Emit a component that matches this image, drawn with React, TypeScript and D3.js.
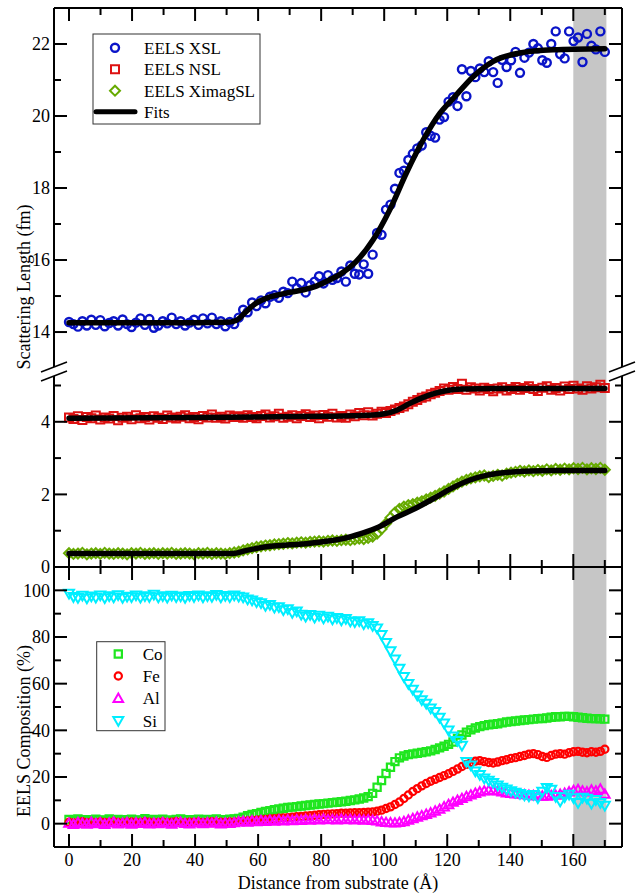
import React from "react";
import * as d3 from "d3";

// ---------- data ----------
const DIST_MAX = 170; // Å, last sample
const N_SAMPLES = 121; // uniform sampling grid 0..170 Å

const XSL = [
  14.28, 14.22, 14.15, 14.30, 14.18, 14.34, 14.20, 14.33, 14.16, 14.25,
  14.30, 14.18, 14.35, 14.22, 14.14, 14.26, 14.38, 14.20, 14.36, 14.12,
  14.18, 14.30, 14.24, 14.40, 14.22, 14.30, 14.18, 14.26, 14.34, 14.20,
  14.38, 14.24, 14.40, 14.22, 14.30, 14.16, 14.28, 14.22,
  14.40, 14.62, 14.55, 14.82, 14.72, 14.88, 14.80, 14.98, 15.02, 14.95,
  15.12, 15.08, 15.40, 15.22, 15.36, 15.10, 15.30, 15.40, 15.55, 15.35,
  15.58, 15.45, 15.50, 15.68, 15.40, 15.85, 15.62, 15.60, 15.88, 15.62,
  16.15, 16.75, 16.70, 17.40, 17.54, 17.98, 18.42, 18.48, 18.78, 18.95,
  19.10, 19.18, 19.55, 19.45, 19.40, 19.90, 19.97, 20.40, 20.52, 20.28,
  21.30, 20.55, 21.25, 21.08, 21.32, 21.22, 21.52, 21.22, 20.92, 21.56,
  21.36, 21.55, 21.78, 21.20, 21.62, 21.76, 22.00, 21.88, 21.55, 21.48,
  22.00, 22.35, 21.72, 21.60, 22.35, 22.08, 22.18, 21.50, 22.28, 21.95,
  21.85, 22.35, 21.78,
];

const NSL = [
  4.12, 4.08, 4.15, 4.05, 4.13, 4.10, 4.17, 4.06, 4.12, 4.09,
  4.16, 4.04, 4.11, 4.14, 4.07, 4.18, 4.10, 4.13, 4.06, 4.15,
  4.11, 4.08, 4.17, 4.12, 4.09, 4.14, 4.18, 4.10, 4.13, 4.07,
  4.16, 4.12, 4.20, 4.11, 4.14, 4.09, 4.17, 4.13,
  4.15, 4.11, 4.18, 4.13, 4.10, 4.16, 4.20, 4.12, 4.15, 4.22,
  4.11, 4.14, 4.18, 4.10, 4.16, 4.21, 4.13, 4.17, 4.10, 4.19,
  4.14, 4.22, 4.12, 4.16, 4.11, 4.20, 4.15, 4.24, 4.18, 4.26,
  4.17, 4.22,
  4.28, 4.24, 4.30, 4.34, 4.38, 4.42, 4.48, 4.55, 4.60, 4.66,
  4.70, 4.76, 4.80, 4.85, 4.92, 4.88, 4.96, 4.90, 5.05, 4.88,
  4.95, 4.92, 4.86, 4.94, 4.90, 4.84, 4.92, 4.95, 4.86, 4.90,
  4.96, 4.88, 4.93, 4.98, 4.90, 4.85, 4.94, 4.98, 4.88, 4.93,
  4.86, 4.97, 4.90, 4.99, 4.92, 4.88, 4.98, 4.92, 4.95, 5.02,
  4.93,
];

const XIMAG = [
  0.38, 0.36, 0.37, 0.39, 0.35, 0.37, 0.38, 0.36, 0.39, 0.37,
  0.36, 0.38, 0.37, 0.35, 0.38, 0.37, 0.39, 0.36, 0.37, 0.38,
  0.36, 0.38, 0.37, 0.39, 0.36, 0.37, 0.38, 0.37, 0.35, 0.38,
  0.37, 0.39, 0.36, 0.38, 0.37, 0.36, 0.38, 0.40,
  0.42, 0.46, 0.49, 0.52, 0.55, 0.57, 0.59, 0.60, 0.62, 0.63,
  0.64, 0.66, 0.65, 0.67, 0.68, 0.67, 0.69, 0.70, 0.71, 0.70,
  0.72, 0.73, 0.72, 0.74, 0.75, 0.74, 0.76, 0.78, 0.77, 0.80,
  0.84, 0.92, 1.05, 1.20, 1.36, 1.50, 1.60, 1.66, 1.70, 1.73,
  1.77, 1.81, 1.86, 1.91, 1.96, 2.02, 2.08, 2.15, 2.22, 2.29,
  2.35, 2.40, 2.44, 2.47, 2.50, 2.52, 2.48, 2.51, 2.54, 2.52,
  2.57, 2.60, 2.62, 2.65, 2.63, 2.66, 2.64, 2.67, 2.65, 2.69,
  2.66, 2.70, 2.68, 2.71, 2.69, 2.72, 2.70, 2.73, 2.69, 2.72,
  2.70, 2.73, 2.68,
];

const FIT_XSL: [number, number][] = [
  [0, 14.26], [20, 14.26], [40, 14.26], [50, 14.27], [53, 14.32], [56, 14.55],
  [59, 14.78], [63, 14.95], [70, 15.1], [78, 15.26], [82, 15.42], [86, 15.6],
  [91, 15.95], [96.5, 16.56], [101.8, 17.4], [107, 18.41], [112.4, 19.34],
  [117.7, 20.08], [122, 20.5], [128.3, 21.1], [134.6, 21.52], [143, 21.75],
  [153.6, 21.84], [170, 21.87],
];
const FIT_NSL: [number, number][] = [
  [0, 4.1], [40, 4.12], [80, 4.15], [95, 4.18], [100, 4.22], [104, 4.32],
  [108, 4.5], [112, 4.66], [116, 4.78], [120, 4.86], [125, 4.9], [135, 4.92],
  [170, 4.92],
];
const FIT_XIMAG: [number, number][] = [
  [0, 0.37], [52, 0.37], [56, 0.45], [60, 0.52], [64, 0.57], [70, 0.61],
  [75.4, 0.64], [81, 0.7], [86.9, 0.78], [92.6, 0.92], [98.3, 1.1],
  [104.1, 1.38], [109.8, 1.61], [115.5, 1.88], [121.2, 2.16], [127, 2.39],
  [132.7, 2.53], [138.4, 2.6], [144.1, 2.64], [155, 2.66], [170, 2.66],
];

const CO = [
  1.8, 1.4, 2.0, 1.5, 1.7, 1.3, 1.9, 1.6, 1.4, 2.0,
  1.5, 1.8, 1.3, 1.7, 1.9, 1.5, 1.6, 2.1, 1.4, 1.8,
  1.5, 1.9, 1.6, 1.3, 1.8, 2.0, 1.5, 1.7, 1.4, 1.9,
  1.6, 1.8, 1.5, 2.0, 1.7, 1.6, 1.9, 2.0,
  2.2, 2.8, 3.4, 3.9, 4.3, 4.8, 5.2, 5.6, 6.0, 6.3,
  6.6, 6.9, 7.1, 7.3, 7.6, 7.8, 8.0, 8.2, 8.4, 8.6,
  8.8, 9.0, 9.2, 9.4, 9.6, 9.9, 10.2, 10.6, 11.0, 11.6,
  13.0, 15.6, 18.5, 21.5, 24.2, 26.6, 28.2, 29.0, 29.6, 29.9,
  30.2, 30.5, 30.8, 31.2, 31.8, 32.5, 33.2, 34.0, 35.0, 36.5,
  38.0, 39.2, 40.2, 41.0, 41.6, 42.0, 42.4, 42.6, 42.8, 43.2,
  43.6, 43.8, 44.0, 44.2, 44.4, 44.6, 44.8, 45.0, 45.1, 45.3,
  45.6, 45.8, 45.8, 46.0, 46.0, 45.8, 45.6, 45.4, 45.2, 45.0,
  45.0, 44.9, 44.8,
];

const FE = [
  0.6, 0.3, 0.5, 0.8, 0.4, 0.6, 0.3, 0.7, 0.5, 0.4,
  0.8, 0.5, 0.3, 0.6, 0.7, 0.4, 0.5, 0.8, 0.6, 0.3,
  0.5, 0.7, 0.4, 0.6, 0.8, 0.5, 0.3, 0.6, 0.5, 0.7,
  0.4, 0.6, 0.8, 0.5, 0.6, 0.4, 0.7, 0.6,
  0.8, 1.0, 1.2, 1.3, 1.5, 1.6, 1.8, 2.0, 2.1, 2.3,
  2.5, 2.6, 2.8, 3.0, 3.1, 3.3, 3.4, 3.6, 3.8, 4.0,
  4.1, 4.2, 4.3, 4.5, 4.5, 4.6, 4.7, 4.7, 4.8, 4.9,
  5.0, 5.3, 5.8, 6.5, 7.2, 8.2, 9.3, 10.8, 12.3, 13.8,
  15.0, 16.2, 17.2, 18.2, 19.0, 19.8, 20.6, 21.4, 22.4, 23.4,
  24.5, 25.4, 26.2, 26.8, 27.0, 26.6, 26.2, 26.0, 26.4, 27.0,
  27.4, 28.0, 28.3, 28.8, 29.2, 29.8, 30.0, 29.6, 28.8, 28.4,
  29.2, 29.8, 30.0, 29.8, 30.4, 30.8, 31.0, 30.6, 30.4, 30.8,
  30.6, 31.0, 31.9,
];

const AL = [
  0.2, -0.3, 0.5, 0.1, -0.2, 0.6, 0.0, 0.4, -0.3, 0.3,
  0.7, -0.1, 0.2, 0.5, -0.2, 0.4, 0.1, 0.6, -0.1, 0.3,
  0.0, 0.5, 0.2, -0.2, 0.4, 0.6, 0.1, -0.1, 0.3, 0.5,
  0.0, 0.4, 0.2, 0.6, -0.1, 0.3, 0.1, 0.4,
  0.8, 1.0, 0.7, 1.2, 0.9, 1.3, 1.0, 1.4, 1.1, 1.5,
  1.2, 1.6, 1.3, 1.7, 1.4, 1.8, 1.5, 1.9, 1.6, 2.0,
  1.7, 1.8, 1.6, 2.0, 1.7, 1.9, 1.6, 1.8, 1.5, 1.7,
  1.4, 1.2,
  0.8, 0.5, 0.4, 0.3, 0.5, 0.9, 1.5, 2.2, 2.8, 3.4,
  4.0, 4.6, 5.4, 6.2, 7.2, 8.2, 9.2, 10.0, 10.8, 11.6,
  12.3, 13.0, 13.6, 14.0, 14.3, 14.2, 14.0, 13.6, 13.2, 13.0,
  12.8, 12.6, 12.4, 12.2, 12.0, 11.9, 11.8, 11.8, 12.0, 12.2,
  12.6, 13.0, 13.6, 14.2, 14.6, 14.0, 13.6, 14.4, 14.0, 14.8,
  12.6,
];

const SI = [
  98.6, 97.2, 96.8, 97.8, 96.6, 97.5, 96.9, 97.9, 96.7, 97.6,
  97.0, 98.0, 96.8, 97.4, 97.1, 97.9, 96.9, 97.6, 97.2, 98.2,
  97.0, 97.6, 96.9, 97.8, 97.1, 97.5, 96.8, 97.7, 97.2, 97.9,
  97.0, 97.6, 97.3, 98.1, 97.0, 97.7, 97.1, 97.9,
  97.4, 97.0, 96.2, 95.8, 95.0, 94.6, 93.4, 93.8, 92.6, 92.9,
  91.6, 92.0, 90.4, 91.0, 89.6, 88.8, 89.5, 88.4, 89.2, 88.0,
  88.8, 87.6, 88.2, 87.2, 87.8, 86.8, 86.4, 86.9, 85.6, 86.0,
  84.8, 83.8, 81.0, 77.5, 74.0, 70.5, 66.5, 63.0, 60.0, 57.5,
  55.0, 53.0, 51.5, 49.5, 48.0, 45.5, 43.0, 40.0, 37.5, 35.5,
  33.5, 26.5, 25.0, 22.5, 21.0, 19.5, 18.5, 17.5, 16.5, 15.5,
  14.8, 14.0, 13.4, 12.8, 12.2, 11.8, 12.4, 11.0, 13.8, 15.4,
  14.6, 11.5, 9.6, 11.4, 12.5, 11.0, 9.0, 11.2, 10.8, 8.6,
  10.2, 9.0, 7.8,
];

const X_TICKS = [0, 20, 40, 60, 80, 100, 120, 140, 160];
const UPPER_TICKS = [14, 16, 18, 20, 22];
const LOWER_TICKS = [0, 2, 4];
const COMP_TICKS = [0, 20, 40, 60, 80, 100];
const SHADE_RANGE = [160, 170.5];
const TOP_LEGEND = ["EELS XSL", "EELS NSL", "EELS XimagSL", "Fits"];
const BOTTOM_LEGEND = ["Co", "Fe", "Al", "Si"];

// ---------- styling ----------
const C = {
  xsl: "#0a14c8",
  nsl: "#dd1111",
  ximag: "#66aa00",
  co: "#1fe61f",
  fe: "#ff0000",
  al: "#ff00ff",
  si: "#00eeff",
  shade: "#c6c6c6",
};
const FONT = "'Liberation Serif', 'Times New Roman', serif";

const L = 54, R = 622, T = 8, MID = 567, B = 847;

const dist = d3.range(N_SAMPLES).map((i) => (i * DIST_MAX) / (N_SAMPLES - 1));

const x = d3.scaleLinear().domain([-4.76, 175.45]).range([L, R]);
const yUp = d3.scaleLinear().domain([12.89, 23]).range([372, T]);
const yLow = d3.scaleLinear().domain([0, 5.3]).range([MID, 374.6]);
const yComp = d3.scaleLinear().domain([-10, 110]).range([B, MID]);

type Shape = "circle" | "square" | "diamond" | "up" | "down";

const STY: Record<string, { shape: Shape; s: number; sw: number; color: string }> = {
  xsl: { shape: "circle", s: 4, sw: 2.4, color: C.xsl },
  nsl: { shape: "square", s: 4, sw: 2, color: C.nsl },
  ximag: { shape: "diamond", s: 5, sw: 2, color: C.ximag },
  co: { shape: "square", s: 3.6, sw: 2.2, color: C.co },
  fe: { shape: "circle", s: 3.6, sw: 2.2, color: C.fe },
  al: { shape: "up", s: 4.8, sw: 2, color: C.al },
  si: { shape: "down", s: 5, sw: 2, color: C.si },
};

function Marker({ st, cx, cy }: { st: { shape: Shape; s: number; sw: number; color: string }; cx: number; cy: number }) {
  const { shape, s, sw, color } = st;
  if (shape === "circle")
    return <circle cx={cx} cy={cy} r={s} fill="none" stroke={color} strokeWidth={sw} />;
  let d = "";
  if (shape === "square") d = `M${cx - s},${cy - s}h${2 * s}v${2 * s}h${-2 * s}Z`;
  if (shape === "diamond") d = `M${cx},${cy - s}L${cx + s},${cy}L${cx},${cy + s}L${cx - s},${cy}Z`;
  if (shape === "up") d = `M${cx},${cy - s}L${cx + s},${cy + s * 0.75}L${cx - s},${cy + s * 0.75}Z`;
  if (shape === "down") d = `M${cx},${cy + s}L${cx + s},${cy - s * 0.75}L${cx - s},${cy - s * 0.75}Z`;
  return <path d={d} fill="none" stroke={color} strokeWidth={sw} strokeLinejoin="miter" />;
}

function Series({ vals, y, st }: { vals: number[]; y: d3.ScaleLinear<number, number>; st: { shape: Shape; s: number; sw: number; color: string } }) {
  return (
    <g>
      {vals.map((v, i) => (
        <Marker key={i} st={st} cx={x(dist[i])} cy={y(v)} />
      ))}
    </g>
  );
}

function Fit({ pts, y }: { pts: [number, number][]; y: d3.ScaleLinear<number, number> }) {
  const line = d3
    .line<[number, number]>()
    .x((d) => x(d[0]))
    .y((d) => y(d[1]))
    .curve(d3.curveMonotoneX);
  return <path d={line(pts) || ""} fill="none" stroke="#000" strokeWidth={5.5} strokeLinecap="round" strokeLinejoin="round" />;
}

export default function App() {
  const xMinor = d3.range(0, 171, 10);
  const tickStroke = { stroke: "#000", strokeWidth: 2 };
  const upperTickVals = d3.range(14, 23, 1);
  const lowerTickVals = d3.range(1, 6, 1);
  const compTickVals = d3.range(-10, 111, 10);

  const breakLines = (ax: number) => (
    <g>
      <line x1={ax - 13} y1={372} x2={ax + 13} y2={362} stroke="#000" strokeWidth={1.5} />
      <line x1={ax - 13} y1={381} x2={ax + 13} y2={371} stroke="#000" strokeWidth={1.5} />
    </g>
  );

  return (
    <svg width={641} height={895} style={{ position: "absolute", left: 0, top: 0, background: "#fff" }} fontFamily={FONT}>
      <rect x={0} y={0} width={641} height={895} fill="#fff" />
      {/* shaded region */}
      <rect x={x(SHADE_RANGE[0])} y={T} width={x(SHADE_RANGE[1]) - x(SHADE_RANGE[0])} height={B - T} fill={C.shade} />

      {/* top panel data */}
      <Series vals={XSL} y={yUp} st={STY.xsl} />
      <Fit pts={FIT_XSL} y={yUp} />
      <Series vals={NSL} y={yLow} st={STY.nsl} />
      <Fit pts={FIT_NSL} y={yLow} />
      <Series vals={XIMAG} y={yLow} st={STY.ximag} />
      <Fit pts={FIT_XIMAG} y={yLow} />

      {/* bottom panel data */}
      <Series vals={CO} y={yComp} st={STY.co} />
      <Series vals={FE} y={yComp} st={STY.fe} />
      <Series vals={AL} y={yComp} st={STY.al} />
      <Series vals={SI} y={yComp} st={STY.si} />

      {/* frame */}
      <line x1={L} y1={T} x2={R} y2={T} {...tickStroke} />
      <line x1={L} y1={MID} x2={R} y2={MID} {...tickStroke} />
      <line x1={L} y1={B} x2={R} y2={B} {...tickStroke} />
      <line x1={L} y1={T} x2={L} y2={367} {...tickStroke} />
      <line x1={L} y1={376} x2={L} y2={B} {...tickStroke} />
      <line x1={R} y1={T} x2={R} y2={367} {...tickStroke} />
      <line x1={R} y1={376} x2={R} y2={B} {...tickStroke} />
      {breakLines(L)}
      {breakLines(R)}

      {/* x ticks */}
      {xMinor.map((v) => {
        const len = v % 20 === 0 ? 13 : 7;
        const px = x(v);
        return (
          <g key={v}>
            <line x1={px} y1={T} x2={px} y2={T + len} {...tickStroke} />
            <line x1={px} y1={MID - len} x2={px} y2={MID + len} {...tickStroke} />
            <line x1={px} y1={B} x2={px} y2={B - len} {...tickStroke} />
          </g>
        );
      })}
      {X_TICKS.map((v) => (
        <text key={v} x={x(v)} y={866} fontSize={18} textAnchor="middle">{v}</text>
      ))}

      {/* y ticks top panel */}
      {upperTickVals.map((v) => {
        const len = v % 2 === 0 ? 13 : 7;
        const py = yUp(v);
        return (
          <g key={"u" + v}>
            <line x1={L} y1={py} x2={L + len} y2={py} {...tickStroke} />
            <line x1={R} y1={py} x2={R - len} y2={py} {...tickStroke} />
          </g>
        );
      })}
      {lowerTickVals.map((v) => {
        const len = v % 2 === 0 ? 13 : 7;
        const py = yLow(v);
        return (
          <g key={"l" + v}>
            <line x1={L} y1={py} x2={L + len} y2={py} {...tickStroke} />
            <line x1={R} y1={py} x2={R - len} y2={py} {...tickStroke} />
          </g>
        );
      })}
      {UPPER_TICKS.map((v) => (
        <text key={"ut" + v} x={50} y={yUp(v)} dy="0.35em" fontSize={18} textAnchor="end">{v}</text>
      ))}
      {LOWER_TICKS.map((v) => (
        <text key={"lt" + v} x={50} y={yLow(v)} dy="0.35em" fontSize={18} textAnchor="end">{v}</text>
      ))}

      {/* y ticks bottom panel */}
      {compTickVals.map((v) => {
        const len = v % 20 === 0 ? 13 : 7;
        const py = yComp(v);
        return (
          <g key={"c" + v}>
            <line x1={L} y1={py} x2={L + len} y2={py} {...tickStroke} />
            <line x1={R} y1={py} x2={R - len} y2={py} {...tickStroke} />
          </g>
        );
      })}
      {COMP_TICKS.map((v) => (
        <text key={"ct" + v} x={50} y={yComp(v)} dy="0.35em" fontSize={18} textAnchor="end">{v}</text>
      ))}

      {/* axis titles */}
      <text transform="translate(30,287) rotate(-90)" fontSize={18} textAnchor="middle">Scattering Length (fm)</text>
      <text transform="translate(30,731) rotate(-90)" fontSize={18} textAnchor="middle">EELS Composition (%)</text>
      <text x={338} y={889} fontSize={18} textAnchor="middle">Distance from substrate (Å)</text>

      {/* top legend */}
      <rect x={93} y={34} width={167} height={90} fill="#fff" stroke="#333" strokeWidth={1} />
      <Marker st={STY.xsl} cx={115} cy={47.7} />
      <Marker st={STY.nsl} cx={115} cy={69.3} />
      <Marker st={STY.ximag} cx={115} cy={90.7} />
      <line x1={96} y1={111.7} x2={135} y2={111.7} stroke="#000" strokeWidth={5} strokeLinecap="round" />
      {TOP_LEGEND.map((t, i) => (
        <text key={t} x={144} y={[47.7, 69.3, 90.7, 111.7][i]} dy="0.35em" fontSize={17}>{t}</text>
      ))}

      {/* bottom legend */}
      <rect x={96.7} y={641.7} width={68.3} height={89} fill="#fff" stroke="#333" strokeWidth={1} />
      <Marker st={STY.co} cx={118.3} cy={654} />
      <Marker st={STY.fe} cx={118.3} cy={676} />
      <Marker st={STY.al} cx={118.3} cy={698.3} />
      <Marker st={STY.si} cx={118.3} cy={720.7} />
      {BOTTOM_LEGEND.map((t, i) => (
        <text key={t} x={142.7} y={[654, 676, 698.3, 720.7][i]} dy="0.35em" fontSize={17}>{t}</text>
      ))}
    </svg>
  );
}
